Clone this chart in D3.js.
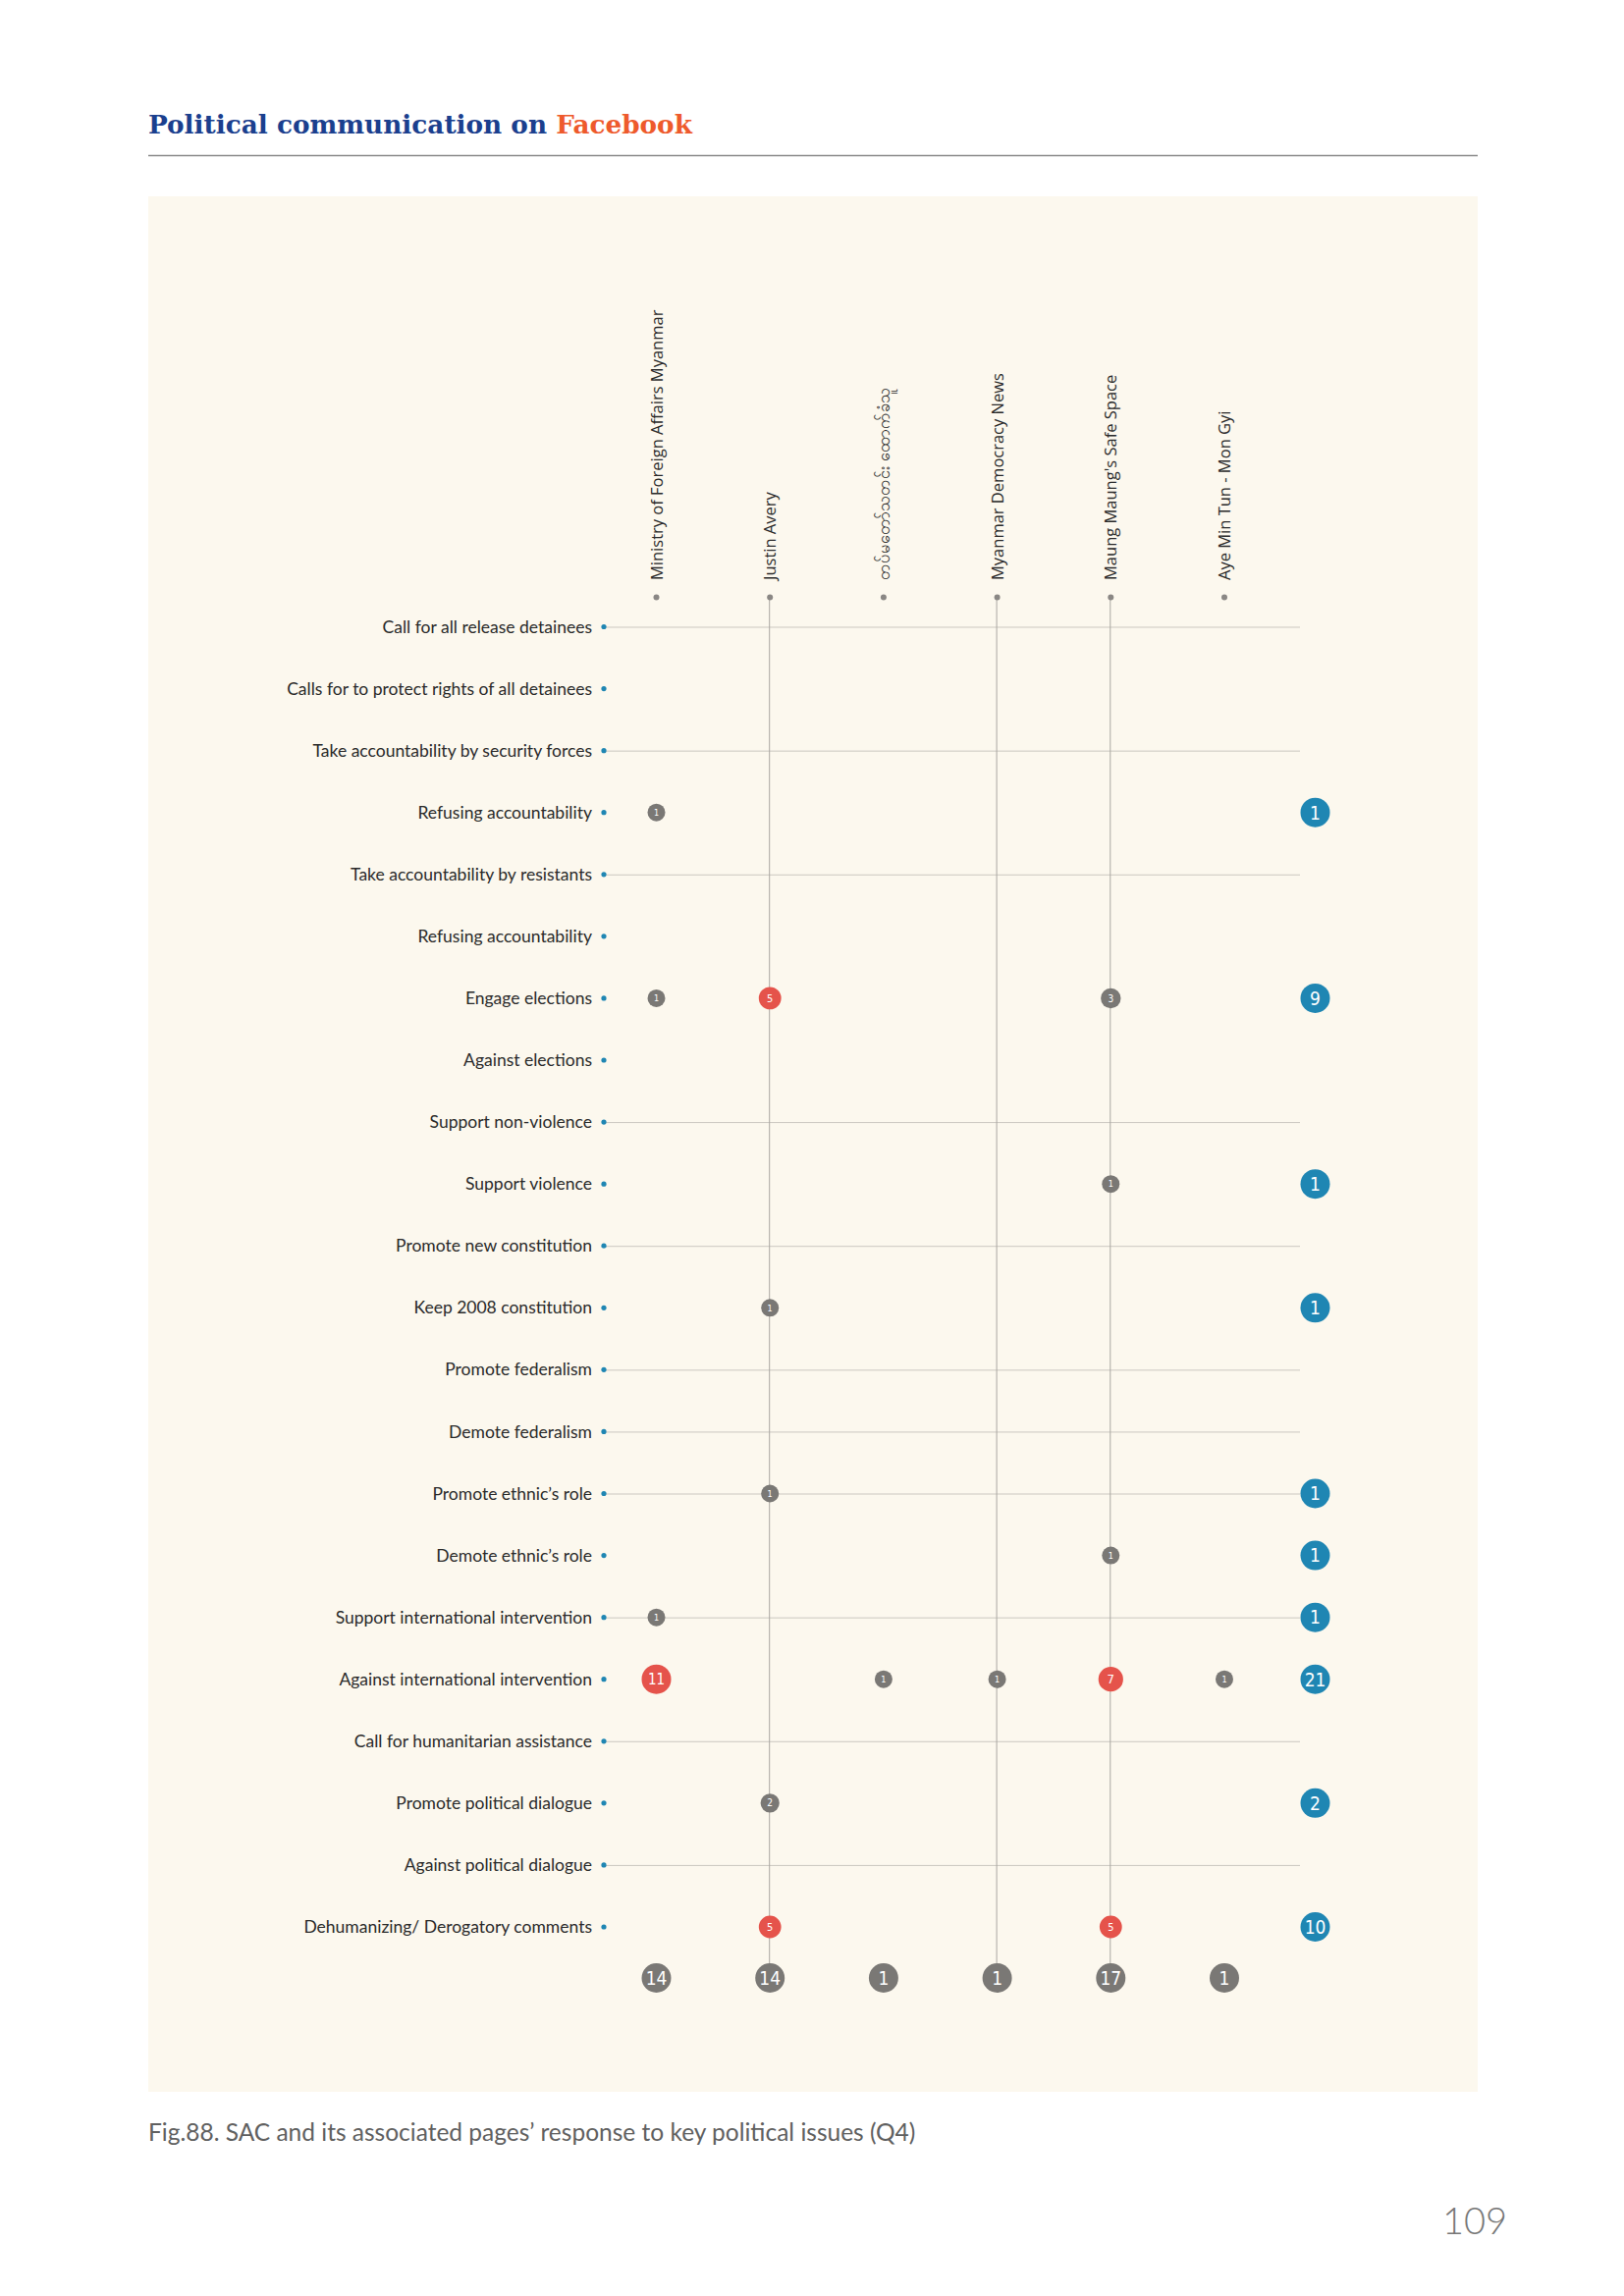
<!DOCTYPE html>
<html>
<head>
<meta charset="utf-8">
<script src="https://cdn.jsdelivr.net/npm/d3@7"></script>
<style>
  body { margin: 0; background: #ffffff; }
  svg { display: block; }
</style>
</head>
<body>
<svg id="chart"></svg>
<script>
// pages (columns) and issues (rows)
var pages = [
  'Ministry of Foreign Affairs Myanmar',
  'Justin Avery',
  'တပ်မတော်သတင်း ထောက်ခံသူ',
  'Myanmar Democracy News',
  "Maung Maung's Safe Space",
  'Aye Min Tun - Mon Gyi'
];

var issues = [
  'Call for all release detainees',
  'Calls for to protect rights of all detainees',
  'Take accountability by security forces',
  'Refusing accountability',
  'Take accountability by resistants',
  'Refusing accountability ',
  'Engage elections',
  'Against elections',
  'Support non-violence',
  'Support violence',
  'Promote new constitution',
  'Keep 2008 constitution',
  'Promote federalism',
  'Demote federalism',
  "Promote ethnic’s role",
  "Demote ethnic’s role",
  'Support international intervention',
  'Against international intervention',
  'Call for humanitarian assistance',
  'Promote political dialogue',
  'Against political dialogue',
  'Dehumanizing/ Derogatory comments'
];

// counts[issue][page]
var counts = [
  [0, 0, 0, 0, 0, 0],
  [0, 0, 0, 0, 0, 0],
  [0, 0, 0, 0, 0, 0],
  [1, 0, 0, 0, 0, 0],
  [0, 0, 0, 0, 0, 0],
  [0, 0, 0, 0, 0, 0],
  [1, 5, 0, 0, 3, 0],
  [0, 0, 0, 0, 0, 0],
  [0, 0, 0, 0, 0, 0],
  [0, 0, 0, 0, 1, 0],
  [0, 0, 0, 0, 0, 0],
  [0, 1, 0, 0, 0, 0],
  [0, 0, 0, 0, 0, 0],
  [0, 0, 0, 0, 0, 0],
  [0, 1, 0, 0, 0, 0],
  [0, 0, 0, 0, 1, 0],
  [1, 0, 0, 0, 0, 0],
  [11, 0, 1, 1, 7, 1],
  [0, 0, 0, 0, 0, 0],
  [0, 2, 0, 0, 0, 0],
  [0, 0, 0, 0, 0, 0],
  [0, 5, 0, 0, 5, 0]
];

var issueTotals = [0, 0, 0, 1, 0, 0, 9, 0, 0, 1, 0, 1, 0, 0, 1, 1, 1, 21, 0, 2, 0, 10];
var pageTotals = [14, 14, 1, 1, 17, 1];

// which rows carry a horizontal rule, and which columns a vertical one
var issueRules = [1, 0, 1, 0, 1, 0, 0, 0, 1, 0, 1, 0, 1, 1, 1, 0, 1, 0, 1, 0, 1, 0];
var pageRules = [0, 1, 0, 1, 1, 0];

var W = 1654, H = 2339;
var svg = d3.select('#chart').attr('width', W).attr('height', H);

var grey = '#7a7875', red = '#e5534b', blue = '#1f86b3';

// title + rule
var title = svg.append('text')
    .attr('x', 151).attr('y', 136)
    .style('font-family', '"DejaVu Serif", serif')
    .style('font-weight', 'bold')
    .style('font-size', '26.3px');
title.append('tspan').attr('fill', '#1b3f8e').text('Political communication on ');
title.append('tspan').attr('fill', '#ee5a2c').text('Facebook');

svg.append('line')
    .attr('x1', 151).attr('x2', 1505)
    .attr('y1', 158.5).attr('y2', 158.5)
    .attr('stroke', '#8a8a8a').attr('stroke-width', 1.5);

// panel
svg.append('rect')
    .attr('x', 151).attr('y', 200)
    .attr('width', 1354).attr('height', 1931)
    .attr('fill', '#fcf8ee');

// scales
var x = d3.scalePoint().domain(d3.range(pages.length)).range([668.5, 1247]);
var y = d3.scalePoint().domain(d3.range(issues.length)).range([638.5, 1963]);
var xTotal = 1339.5;
var yTotal = 2015;
var yHead = 608.5;
var xLabelDot = 615;

var r = d3.scaleLinear().domain([1, 11]).range([9, 15]);
var fill = d3.scaleThreshold().domain([5]).range([grey, red]);

// grid
svg.append('g').selectAll('line')
    .data(d3.range(issues.length).filter(function(i){ return issueRules[i]; }))
    .join('line')
    .attr('x1', xLabelDot).attr('x2', 1324)
    .attr('y1', function(i){ return y(i) + 0.5; })
    .attr('y2', function(i){ return y(i) + 0.5; })
    .attr('stroke', '#cbc7c0').attr('stroke-width', 1);

svg.append('g').selectAll('line')
    .data(d3.range(pages.length).filter(function(j){ return pageRules[j]; }))
    .join('line')
    .attr('x1', function(j){ return x(j) - 0.5; })
    .attr('x2', function(j){ return x(j) - 0.5; })
    .attr('y1', yHead).attr('y2', yTotal)
    .attr('stroke', '#aaa7a2').attr('stroke-width', 1);

// issue labels
var rowG = svg.append('g').selectAll('g')
    .data(issues)
    .join('g')
    .attr('transform', function(d, i){ return 'translate(0,' + y(i) + ')'; });

rowG.append('text')
    .attr('x', 603).attr('dy', '0.35em')
    .attr('text-anchor', 'end')
    .style('font-family', 'Lato, sans-serif')
    .style('font-size', '17.5px')
    .attr('fill', '#2a2a2a')
    .text(function(d){ return d.trim(); });

rowG.append('circle')
    .attr('cx', xLabelDot).attr('r', 2.6)
    .attr('fill', blue);

// page labels (rotated)
var colG = svg.append('g').selectAll('g')
    .data(pages)
    .join('g')
    .attr('transform', function(d, j){ return 'translate(' + x(j) + ',0)'; });

colG.append('text')
    .attr('transform', 'translate(6,591) rotate(-90)')
    .attr('text-anchor', 'start')
    .style('font-family', '"Open Sans", sans-serif')
    .style('font-size', '16.5px')
    .attr('fill', '#2a2a2a')
    .text(function(d){ return d; });

colG.append('circle')
    .attr('cy', yHead).attr('r', 3)
    .attr('fill', '#8a8784');

// cells
var cells = [];
counts.forEach(function(row, i){
    row.forEach(function(v, j){
        if (v > 0) cells.push({i: i, j: j, v: v});
    });
});

function bubble(sel, cx, cy, rad, col, fs){
    sel.append('circle')
        .attr('cx', cx).attr('cy', cy).attr('r', rad)
        .attr('fill', col);
    sel.append('text')
        .attr('x', cx).attr('y', cy).attr('dy', '0.36em')
        .attr('text-anchor', 'middle')
        .style('font-family', '"Liberation Sans Narrow", "DejaVu Sans Condensed", sans-serif')
        .style('font-size', fs + 'px')
        .attr('fill', '#ffffff');
}

var cellG = svg.append('g');
cells.forEach(function(c){
    var g = cellG.append('g');
    bubble(g, x(c.j), y(c.i), r(c.v), fill(c.v), Math.round(r(c.v) * 1.0));
    g.select('text').text(c.v);
});

// issue totals
var totG = svg.append('g');
issueTotals.forEach(function(t, i){
    if (!t) return;
    var g = totG.append('g');
    bubble(g, xTotal, y(i), 15, blue, 19);
    g.select('text').text(t);
});

// page totals
pageTotals.forEach(function(t, j){
    var g = totG.append('g');
    bubble(g, x(j), yTotal, 15, grey, 19);
    g.select('text').text(t);
});

// caption and page number
svg.append('text')
    .attr('x', 151).attr('y', 2181)
    .style('font-family', 'Lato, sans-serif')
    .style('font-size', '24.5px')
    .attr('fill', '#606060')
    .text('Fig.88. SAC and its associated pages’ response to key political issues (Q4)');

svg.append('text')
    .attr('x', 1535).attr('y', 2276)
    .attr('text-anchor', 'end')
    .style('font-family', 'Lato, sans-serif')
    .style('font-weight', 300)
    .style('font-size', '38px')
    .attr('fill', '#777777')
    .text('109');
</script>
</body>
</html>
